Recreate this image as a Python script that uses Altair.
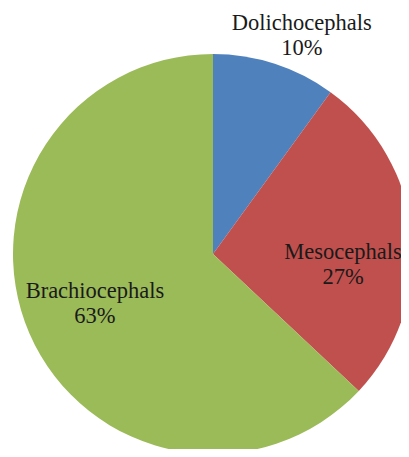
import altair as alt
import pandas as pd

categories = ["Dolichocephals", "Mesocephals", "Brachiocephals"]
shares = [10, 27, 63]
colors = ["#4F81BD", "#C0504D", "#9BBB59"]

df = pd.DataFrame({"name": categories, "pct": shares, "idx": list(range(len(categories)))})

cx, cy = 205, 246

base = alt.Chart(df).encode(
    theta=alt.Theta("pct:Q", stack=True),
    order=alt.Order("idx:Q"),
    x=alt.value(cx),
    y=alt.value(cy),
)

pie = base.mark_arc(outerRadius=200).encode(
    color=alt.Color("name:N", scale=alt.Scale(domain=categories, range=colors), legend=None)
)

def label_layer(name, radius, dx=0, dy=0):
    return base.transform_calculate(
        lab="datum.name == '" + name + "' ? datum.name + '\\n' + datum.pct + '%' : ''"
    ).mark_text(
        radius=radius, dx=dx, dy=dy, font="Liberation Serif", fontSize=22.5,
        lineBreak="\n", lineHeight=25, color="#1a1a1a", align="center", baseline="alphabetic"
    ).encode(text="lab:N")

chart = alt.layer(
    pie,
    label_layer("Dolichocephals", 235.5, dx=16),
    label_layer("Mesocephals", 130.6, dy=17),
    label_layer("Brachiocephals", 128.6, dy=-7),
).properties(
    width=393, height=441, autosize=alt.AutoSizeParams(type="none"), padding=0
).configure_view(stroke=None)

chart.save("out.html", embed_options={"renderer": "svg", "actions": False})
